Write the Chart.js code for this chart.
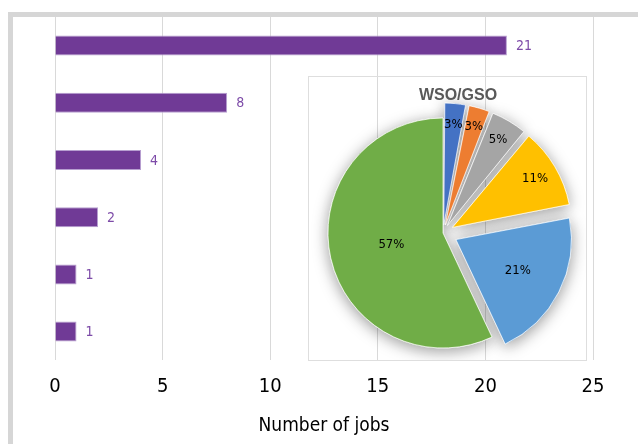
<!DOCTYPE html>
<html>
<head>
<meta charset="utf-8">
<script src="https://cdn.jsdelivr.net/npm/chart.js@4"></script>
<style>
  html, body { margin: 0; padding: 0; background: #fff; }
  #wrap { position: relative; width: 638px; height: 444px; overflow: hidden; }
  #frame { position: absolute; left: 8px; top: 12px; width: 700px; height: 500px;
           border-left: 5px solid #d6d6d6; border-top: 5px solid #d6d6d6; }
  #bars { position: absolute; left: 0; top: 0; }
  #pieBox { position: absolute; left: 308px; top: 76px; width: 277px; height: 283px;
            border: 1px solid #dedede; }
  #pieTitle { position: absolute; left: 400px; top: 86px; width: 116px; text-align: center;
              font: bold 16px 'Liberation Sans', Arial, sans-serif; color: #595959; }
</style>
</head>
<body>
<div id="wrap">
  <div id="frame"></div>
  <canvas id="bars" width="638" height="444"></canvas>
  <div id="pieBox"><canvas id="pie" width="277" height="283"></canvas></div>
  <div id="pieTitle">WSO/GSO</div>
</div>
<script>
// Barras (de arriba hacia abajo)
const categorias = ['', '', '', '', '', ''];
const trabajos = [21, 8, 4, 2, 1, 1];
const ticksX = [0, 5, 10, 15, 20, 25];

// Pastel WSO/GSO
const etiquetasPie = ['A', 'B', 'C', 'D', 'E', 'F'];
const porcentajes = [3, 3, 5, 11, 21, 57];
const coloresPie = ['#4472c4', '#ed7d31', '#a5a5a5', '#ffc000', '#5b9bd5', '#70ad47'];

const fuenteNarrow = "'Liberation Sans Narrow', 'DejaVu Sans Condensed', 'Arial Narrow', sans-serif";

// Etiquetas de valor al final de cada barra
const etiquetasBarras = {
  id: 'etiquetasBarras',
  afterDatasetsDraw(chart) {
    const ctx = chart.ctx;
    ctx.save();
    ctx.font = '14px ' + fuenteNarrow;
    ctx.fillStyle = '#7d4ba8';
    ctx.textBaseline = 'middle';
    chart.getDatasetMeta(0).data.forEach((bar, i) => {
      ctx.fillText(String(trabajos[i]), bar.x + 9, bar.y + 1);
    });
    ctx.restore();
  }
};

new Chart(document.getElementById('bars'), {
  type: 'bar',
  data: {
    labels: categorias,
    datasets: [{
      data: trabajos,
      backgroundColor: '#703a96',
      borderColor: '#b79fd0',
      borderWidth: 1,
      barPercentage: 0.35,
      categoryPercentage: 1
    }]
  },
  options: {
    indexAxis: 'y',
    responsive: false,
    animation: false,
    layout: { padding: { left: 55, right: 45, top: 17, bottom: 7 } },
    plugins: { legend: { display: false }, tooltip: { enabled: false } },
    scales: {
      x: {
        min: 0,
        max: 25,
        afterBuildTicks: s => { s.ticks = ticksX.map(v => ({ value: v })); },
        grid: { color: '#d9d9d9', drawTicks: false },
        border: { display: false },
        ticks: { color: '#000', padding: 15, font: { family: fuenteNarrow, size: 20 } },
        title: {
          display: true,
          text: 'Number of jobs',
          color: '#000',
          padding: { top: 0, bottom: 0 },
          font: { family: fuenteNarrow, size: 19 }
        }
      },
      y: { display: false }
    }
  },
  plugins: [etiquetasBarras]
});

// Sombra alrededor de las porciones
const sombraPie = {
  id: 'sombraPie',
  beforeDatasetsDraw(chart) {
    const ctx = chart.ctx;
    ctx.save();
    ctx.shadowColor = 'rgba(0,0,0,0.4)';
    ctx.shadowBlur = 16;
    ctx.shadowOffsetY = 3;
    chart.getDatasetMeta(0).data.forEach(arc => arc.draw(ctx));
    ctx.restore();
  }
};

// Porcentajes dentro de cada porción
const radioEtiqueta = [0.95, 0.96, 0.94, 0.93, 0.73, 0.46];
const etiquetasPct = {
  id: 'etiquetasPct',
  afterDatasetsDraw(chart) {
    const ctx = chart.ctx;
    ctx.save();
    ctx.font = '13px ' + fuenteNarrow;
    ctx.fillStyle = '#000';
    ctx.textAlign = 'center';
    ctx.textBaseline = 'middle';
    chart.getDatasetMeta(0).data.forEach((arc, i) => {
      const p = arc.getProps(['x', 'y', 'startAngle', 'endAngle', 'outerRadius'], true);
      const a = (p.startAngle + p.endAngle) / 2;
      const r = p.outerRadius * radioEtiqueta[i];
      ctx.fillText(porcentajes[i] + '%', p.x + Math.cos(a) * r, p.y + Math.sin(a) * r);
    });
    ctx.restore();
  }
};

new Chart(document.getElementById('pie'), {
  type: 'pie',
  data: {
    labels: etiquetasPie,
    datasets: [{
      data: porcentajes,
      backgroundColor: coloresPie,
      borderColor: 'rgba(255,255,255,0.7)',
      borderWidth: 1,
      offset: [33, 33, 35, 44, 58, 0]
    }]
  },
  options: {
    responsive: false,
    animation: false,
    radius: 115,
    layout: { padding: { left: 0, right: 9, top: 29, bottom: 0 } },
    plugins: { legend: { display: false }, tooltip: { enabled: false } }
  },
  plugins: [sombraPie, etiquetasPct]
});
</script>
</body>
</html>
